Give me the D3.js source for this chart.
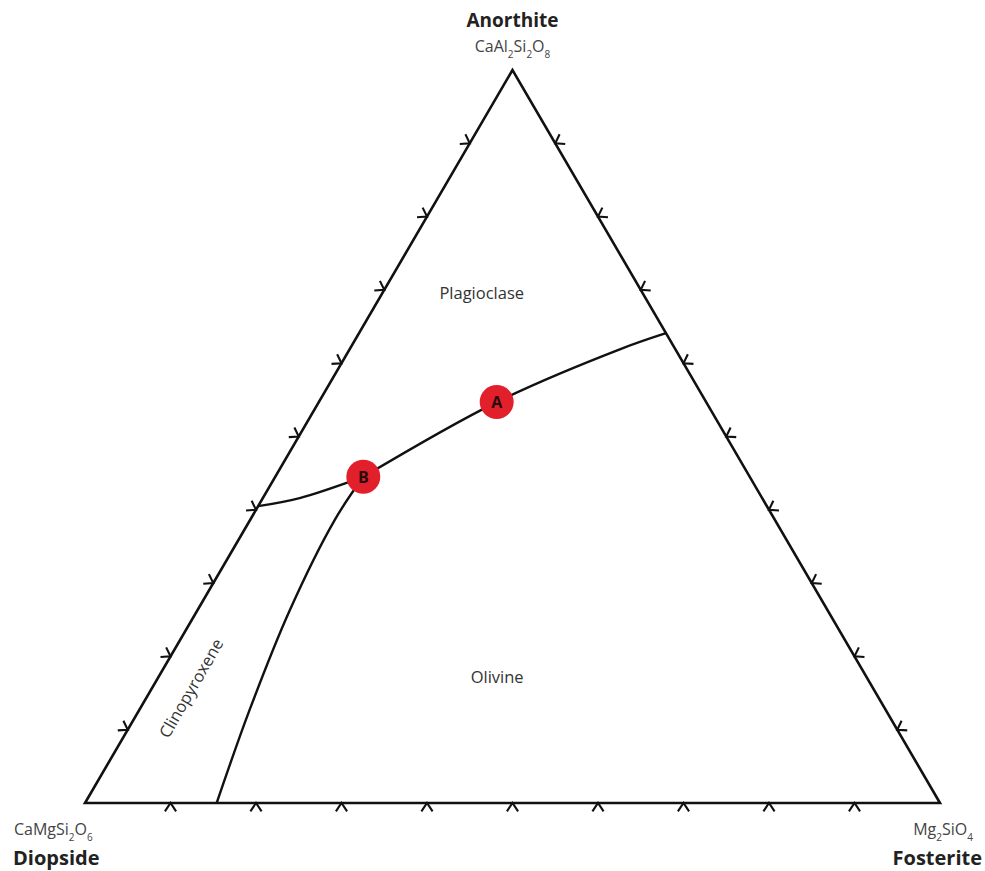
<!DOCTYPE html>
<html>
<head>
<meta charset="utf-8">
<script src="https://cdn.jsdelivr.net/npm/d3@7/dist/d3.min.js"></script>
<style>
  html, body { margin: 0; padding: 0; background: #fff; }
  svg { display: block; font-family: "Open Sans", "Noto Sans", sans-serif; }
</style>
</head>
<body>
<svg id="chart" width="985" height="871"></svg>
<script>
// Di–An–Fo ternary phase diagram (compositions as fractions An, Di, Fo)

const endMembers = ["Anorthite", "Diopside", "Fosterite"];
const formulas = [
  [["CaAl", ""], ["2", "sub"], ["Si", ""], ["2", "sub"], ["O", ""], ["8", "sub"]],
  [["CaMgSi", ""], ["2", "sub"], ["O", ""], ["6", "sub"]],
  [["Mg", ""], ["2", "sub"], ["SiO", ""], ["4", "sub"]]
];

const tickFractions = [0.1, 0.2, 0.3, 0.4, 0.5, 0.6, 0.7, 0.8, 0.9];

// Boundary curves, each point as [An, Di, Fo]
const plagOlivine = [
  [0.641, 0.000, 0.359],
  [0.619, 0.065, 0.316],
  [0.547, 0.245, 0.208],
  [0.445, 0.452, 0.103]
];
const plagCpx = [
  [0.405, 0.595, 0.000],
  [0.416, 0.541, 0.043],
  [0.445, 0.452, 0.103]
];
const cpxOlivine = [
  [0.445, 0.452, 0.103],
  [0.386, 0.515, 0.099],
  [0.263, 0.629, 0.108],
  [0.127, 0.744, 0.129],
  [0.000, 0.846, 0.154]
];

const markerNames = ["A", "B"];
const markerComps = [
  [0.547, 0.245, 0.208],
  [0.445, 0.452, 0.103]
];

const fieldNames = ["Plagioclase", "Olivine", "Clinopyroxene"];
const fieldComps = [
  [0.696, 0.188, 0.116],
  [0.172, 0.432, 0.396],
  [0.157, 0.798, 0.045]
];

const svg = d3.select("#chart");

// Unit ternary coordinates -> pixels
const xScale = d3.scaleLinear().domain([0, 1]).range([85, 940]);
const yScale = d3.scaleLinear().domain([0, 1]).range([803, 70]);
function project(c) {
  const [an, di, fo] = c;
  const s = an + di + fo;
  const u = (fo + an / 2) / s;
  const v = an / s;
  return [xScale(u), yScale(v)];
}

const vTop = project([1, 0, 0]);
const vLeft = project([0, 1, 0]);
const vRight = project([0, 0, 1]);

// Triangle outline
svg.append("path")
  .attr("d", d3.line().curve(d3.curveLinearClosed)([vTop, vLeft, vRight]))
  .attr("fill", "none")
  .attr("stroke", "#111")
  .attr("stroke-width", 2.6)
  .attr("stroke-linejoin", "miter");

// Edge ticks: small chevrons on the outside of each edge
const edges = [
  { a: vLeft, b: vTop },
  { a: vTop, b: vRight },
  { a: vRight, b: vLeft }
];
const tickLen = 10;
const tickSpread = 34 * Math.PI / 180;
const ticks = [];
edges.forEach(e => {
  const dx = e.b[0] - e.a[0], dy = e.b[1] - e.a[1];
  const len = Math.hypot(dx, dy);
  // outward normal (vertices run clockwise on screen)
  const nx = dy / len, ny = -dx / len;
  const base = Math.atan2(ny, nx);
  tickFractions.forEach(f => {
    const p = [e.a[0] + dx * f, e.a[1] + dy * f];
    ticks.push({ p, base });
  });
});
svg.append("g").selectAll("path")
  .data(ticks)
  .join("path")
  .attr("d", t => {
    const a1 = t.base - tickSpread, a2 = t.base + tickSpread;
    const p1 = [t.p[0] + tickLen * Math.cos(a1), t.p[1] + tickLen * Math.sin(a1)];
    const p2 = [t.p[0] + tickLen * Math.cos(a2), t.p[1] + tickLen * Math.sin(a2)];
    return `M${p1}L${t.p}L${p2}`;
  })
  .attr("fill", "none")
  .attr("stroke", "#111")
  .attr("stroke-width", 2.1);

// Boundary curves
const curveLine = d3.line().curve(d3.curveCatmullRom.alpha(0.5));
svg.append("g").selectAll("path")
  .data([plagOlivine, plagCpx, cpxOlivine])
  .join("path")
  .attr("d", d => curveLine(d.map(project)))
  .attr("fill", "none")
  .attr("stroke", "#111")
  .attr("stroke-width", 2.4);

// Field labels
fieldNames.forEach((name, i) => {
  const p = project(fieldComps[i]);
  const rot = i === 2 ? -60 : 0;
  svg.append("text")
    .attr("transform", `translate(${p[0]},${p[1]}) rotate(${rot})`)
    .attr("text-anchor", "middle")
    .attr("dominant-baseline", "central")
    .attr("font-size", 16.5)
    .attr("fill", "#333")
    .text(name);
});

// Marked points
const markers = svg.append("g").selectAll("g")
  .data(markerNames.map((n, i) => ({ n, p: project(markerComps[i]) })))
  .join("g")
  .attr("transform", d => `translate(${d.p[0]},${d.p[1]})`);
markers.append("circle")
  .attr("r", 17)
  .attr("fill", "#e2202b");
markers.append("text")
  .attr("text-anchor", "middle")
  .attr("dominant-baseline", "central")
  .attr("font-size", 16)
  .attr("font-weight", 700)
  .attr("fill", "#2a0c0c")
  .text(d => d.n);

// Vertex labels: formula (with subscripts) and mineral name
function formulaText(x, y, parts, anchor) {
  const t = svg.append("text")
    .attr("x", x).attr("y", y)
    .attr("text-anchor", anchor)
    .attr("font-size", 16)
    .attr("fill", "#444");
  let shifted = false;
  parts.forEach(([s, kind]) => {
    const ts = t.append("tspan").text(s);
    if (kind === "sub") {
      ts.attr("font-size", 10).attr("dy", shifted ? 0 : 6);
      shifted = true;
    } else {
      ts.attr("dy", shifted ? -6 : 0);
      shifted = false;
    }
  });
}

svg.append("text")
  .attr("x", vTop[0]).attr("y", 27)
  .attr("text-anchor", "middle")
  .attr("font-size", 19).attr("font-weight", 700)
  .attr("fill", "#222")
  .text(endMembers[0]);
formulaText(vTop[0], 52, formulas[0], "middle");

formulaText(14, 835, formulas[1], "start");
svg.append("text")
  .attr("x", 13).attr("y", 865)
  .attr("text-anchor", "start")
  .attr("font-size", 20).attr("font-weight", 700)
  .attr("fill", "#222")
  .text(endMembers[1]);

formulaText(973, 835, formulas[2], "end");
svg.append("text")
  .attr("x", 982).attr("y", 865)
  .attr("text-anchor", "end")
  .attr("font-size", 20).attr("font-weight", 700)
  .attr("fill", "#222")
  .text(endMembers[2]);
</script>
</body>
</html>
